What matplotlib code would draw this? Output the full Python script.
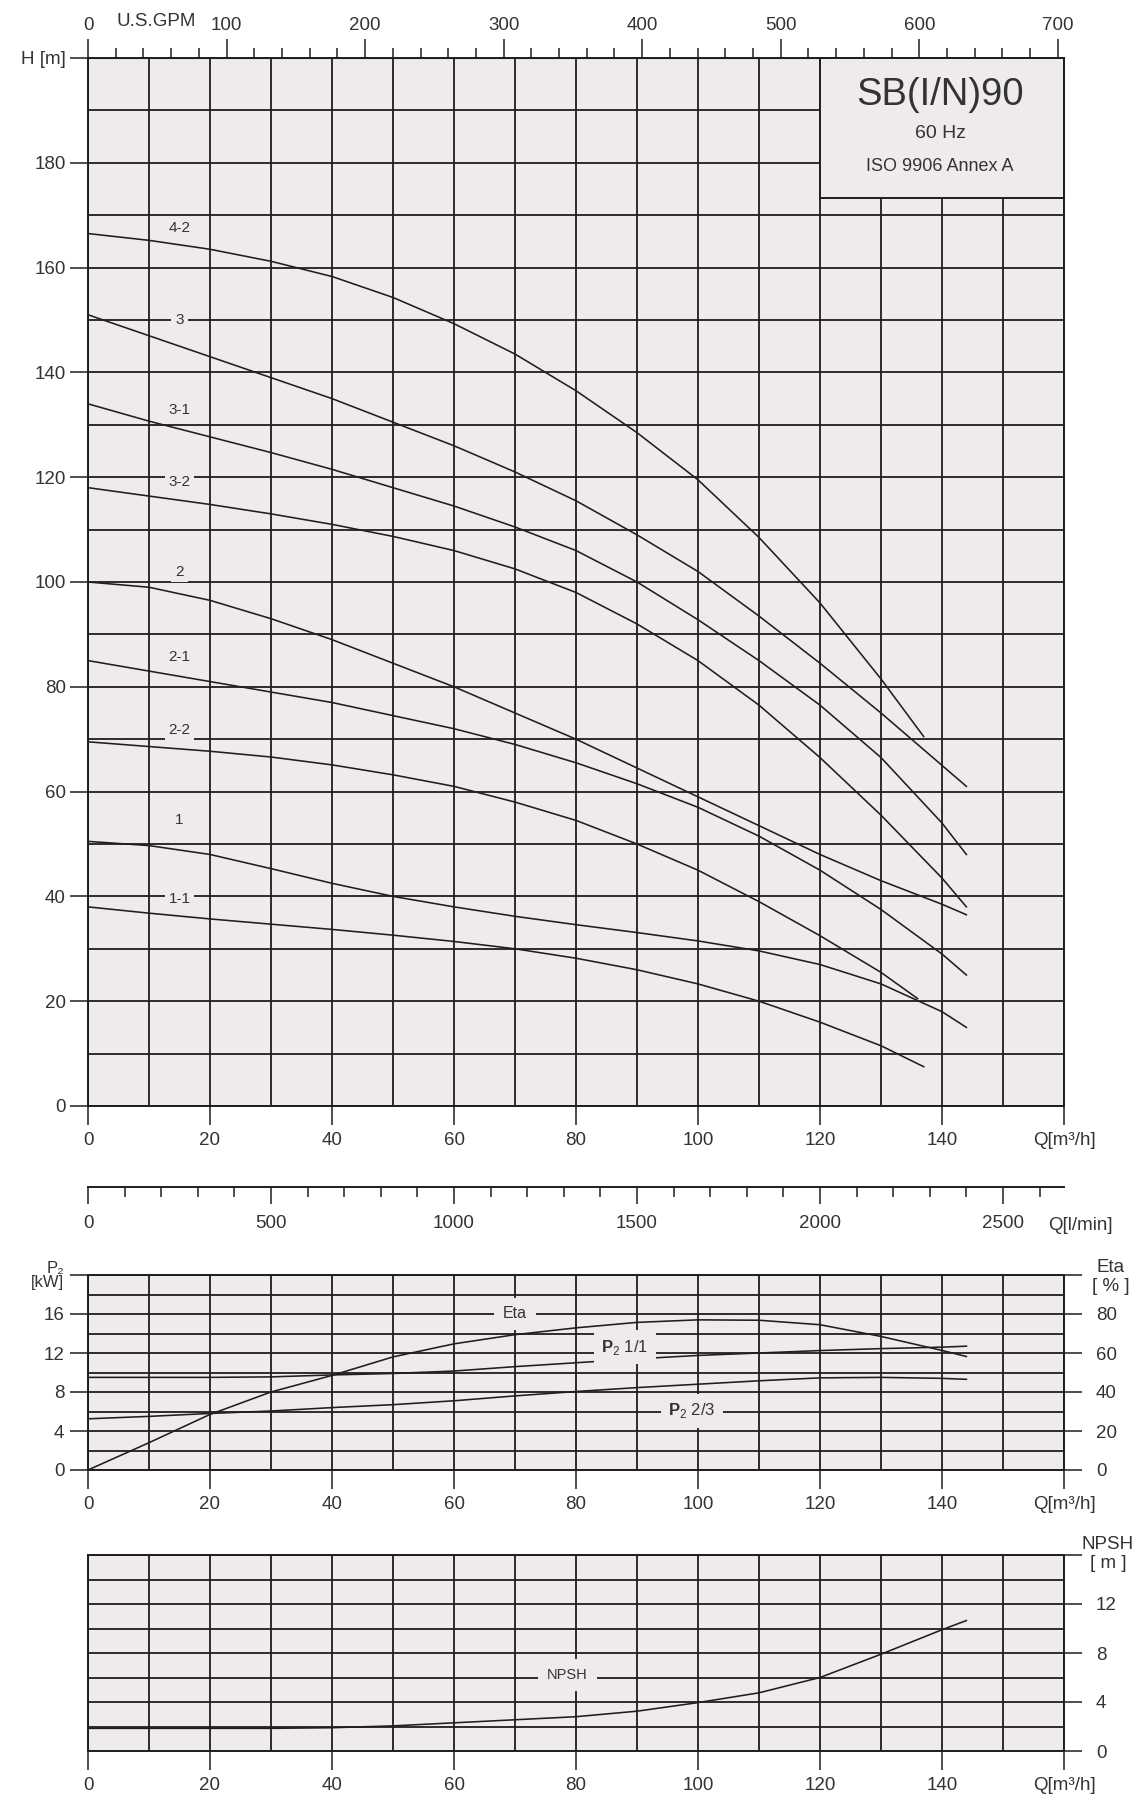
import numpy as np
import matplotlib
matplotlib.use("Agg")
import matplotlib.pyplot as plt
from matplotlib.patches import Rectangle

plt.rcParams['font.family'] = ['Liberation Sans', 'DejaVu Sans']
plt.rcParams['mathtext.fontset'] = 'custom'
plt.rcParams['mathtext.rm'] = 'Liberation Sans'
plt.rcParams['mathtext.bf'] = 'Liberation Sans:bold'

BG = '#efebec'
INK = '#1e1e1e'
TXT = '#333333'
FS = 13.5

# head curves: Q [m3/h] -> H [m]
q_long = [0, 10, 20, 30, 40, 50, 60, 70, 80, 90, 100, 110, 120, 130, 140, 144]
q_42 = [0, 10, 20, 30, 40, 50, 60, 70, 80, 90, 100, 110, 120, 130, 137]
q_22 = [0, 10, 20, 30, 40, 50, 60, 70, 80, 90, 100, 110, 120, 130, 136]
q_11 = [0, 10, 20, 30, 40, 50, 60, 70, 80, 90, 100, 110, 120, 130, 137]

h_42 = [166.5, 165.2, 163.5, 161.2, 158.3, 154.3, 149.3, 143.5, 136.5, 128.5, 119.5, 108.5, 96, 81.5, 70.5]
h_3 = [151, 147, 143, 139, 135, 130.5, 126, 121, 115.5, 109, 102, 93.5, 84.5, 75, 65, 61]
h_31 = [134, 130.7, 127.7, 124.7, 121.5, 118, 114.5, 110.5, 106, 100, 92.8, 85, 76.5, 66.5, 54, 48]
h_32 = [118, 116.4, 114.8, 113, 111, 108.7, 106, 102.5, 98, 92, 85, 76.5, 66.5, 55.5, 43.5, 38]
h_2 = [100, 99, 96.5, 93, 89, 84.5, 80, 75, 70, 64.5, 59, 53.5, 48, 43, 38.5, 36.5]
h_21 = [85, 83, 81, 79, 77, 74.5, 72, 69, 65.5, 61.5, 57, 51.5, 45, 37.5, 29, 25]
h_22 = [69.5, 68.6, 67.7, 66.6, 65.1, 63.2, 61, 58, 54.5, 50, 45, 39, 32.5, 25.5, 20.5]
h_1 = [50.5, 49.7, 48, 45.3, 42.5, 40, 38, 36.2, 34.6, 33.1, 31.5, 29.6, 27, 23.3, 18, 15]
h_11 = [38, 36.8, 35.7, 34.7, 33.7, 32.6, 31.4, 30, 28.2, 26, 23.3, 20, 16, 11.5, 7.5]

curve_names = ['4-2', '3', '3-1', '3-2', '2', '2-1', '2-2', '1', '1-1']
curve_q = [q_42, q_long, q_long, q_long, q_long, q_long, q_22, q_long, q_11]
curve_h = [h_42, h_3, h_31, h_32, h_2, h_21, h_22, h_1, h_11]
name_h = [167.5, 150, 132.8, 119, 102, 85.7, 71.7, 54.6, 39.5]

# power / efficiency / NPSH
q_low = [0, 10, 20, 30, 40, 50, 60, 70, 80, 90, 100, 110, 120, 130, 140, 144]
p2_full = [9.5, 9.5, 9.5, 9.55, 9.75, 9.9, 10.15, 10.6, 11.0, 11.4, 11.75, 12.0, 12.25, 12.45, 12.6, 12.7]
p2_twothirds = [5.25, 5.5, 5.8, 6.05, 6.4, 6.7, 7.1, 7.6, 8.05, 8.45, 8.8, 9.15, 9.45, 9.5, 9.4, 9.3]
eta = [0, 14, 28.5, 40, 48.5, 58, 64.7, 69.4, 72.9, 75.7, 77, 76.8, 74.5, 68.5, 61.3, 58.2]
npsh = [1.85, 1.85, 1.85, 1.85, 1.9, 2.05, 2.3, 2.55, 2.8, 3.25, 3.95, 4.75, 6.0, 7.9, 9.9, 10.65]

q_ticks = [0, 20, 40, 60, 80, 100, 120, 140, 160]
q_ticklabels = ['0', '20', '40', '60', '80', '100', '120', '140', 'Q[m³/h]']
gpm_ticks = [0, 100, 200, 300, 400, 500, 600, 700]
lpm_ticks = [0, 500, 1000, 1500, 2000, 2500]

W, H = 1141, 1800
fig = plt.figure(figsize=(W / 100, H / 100), dpi=100)
fig.patch.set_facecolor('white')

left = 88 / W
width = 976 / W


def frame(ax, ymax, ystep):
    ax.set_facecolor(BG)
    ax.set_xlim(0, 160)
    ax.set_ylim(0, ymax)
    ax.set_xticks(np.arange(0, 161, 10), minor=True)
    ax.set_yticks(np.arange(0, ymax + 0.1, ystep), minor=True)
    ax.grid(which='both', color=INK, lw=1.3)
    for s in ax.spines.values():
        s.set_color(INK)
        s.set_linewidth(1.4)
    ax.tick_params(which='minor', length=0)
    ax.tick_params(which='major', color=INK, width=1.1, labelcolor=TXT, labelsize=FS)
    ax.set_xticks(q_ticks)
    ax.set_xticklabels(q_ticklabels)
    ax.tick_params(axis='x', which='major', length=13.5, pad=5)


# ---- head chart ----
ax = fig.add_axes([left, 1 - 1106 / H, width, 1048 / H])
frame(ax, 200, 10)
ax.set_yticks(np.arange(0, 201, 20))
ax.set_yticklabels([str(v) for v in range(0, 181, 20)] + ['H [m]'])
ax.tick_params(axis='y', which='major', length=13, pad=3)

for name, q, h, hy in zip(curve_names, curve_q, curve_h, name_h):
    ax.plot(q, h, color=INK, lw=1.15, zorder=3)
    ax.text(15, hy, name, ha='center', va='center', fontsize=11, color=TXT, zorder=4,
            bbox=dict(boxstyle='square,pad=0.25', fc=BG, ec='none'))

ax.add_patch(Rectangle((120, 173.3), 40, 26.7, fc=BG, ec=INK, lw=1.4, zorder=2.5, clip_on=False))
ax.text(139.7, 193, 'SB(I/N)90', ha='center', va='center', fontsize=27.5, color=TXT, zorder=4)
ax.text(139.7, 185.6, '60 Hz', ha='center', va='center', fontsize=14, color=TXT, zorder=4)
ax.text(139.7, 179.2, 'ISO 9906 Annex A', ha='center', va='center', fontsize=13, color=TXT, zorder=4)

gpm = ax.secondary_xaxis('top', functions=(lambda q: q * 4.4029, lambda g: g / 4.4029))
gpm.set_xticks(gpm_ticks)
gpm.set_xticks(np.arange(0, 701, 20), minor=True)
gpm.tick_params(which='major', length=13.5, width=1.1, color=INK, labelcolor=TXT, labelsize=FS, pad=4)
gpm.tick_params(which='minor', length=7, width=1.1, color=INK)
gpm.spines['top'].set_color(INK)
fig.text(156 / W, 1 - 21 / H, 'U.S.GPM', ha='center', va='center', fontsize=FS, color=TXT)

# ---- l/min scale (1 m3/h = 1000/60 l/min) ----
axl = fig.add_axes([left, 1 - 1187 / H, width, 0.0001])
axl.set_xlim(0, 160)
axl.patch.set_visible(False)
for s in ['left', 'right', 'top']:
    axl.spines[s].set_visible(False)
axl.spines['bottom'].set_color(INK)
axl.spines['bottom'].set_linewidth(1.4)
axl.yaxis.set_visible(False)
axl.set_xticks([v * 0.06 for v in lpm_ticks])
axl.set_xticklabels([str(v) for v in lpm_ticks])
axl.set_xticks([v * 0.06 for v in range(0, 2601, 100)], minor=True)
axl.tick_params(which='major', length=12, width=1.1, color=INK, labelcolor=TXT, labelsize=FS, pad=8)
axl.tick_params(which='minor', length=7, width=1.1, color=INK)
fig.text(1080 / W, 1 - 1225 / H, 'Q[l/min]', ha='center', va='center', fontsize=FS, color=TXT)

# ---- power / efficiency ----
axp = fig.add_axes([left, 1 - 1470 / H, width, 195 / H])
frame(axp, 20, 2)
axp.set_yticks([0, 4, 8, 12, 16, 20])
axp.set_yticklabels(['0', '4', '8', '12', '16', 'P₂\n[kW]'])
axp.tick_params(axis='y', which='major', length=13, pad=4)
axp.get_yticklabels()[-1].set_fontsize(12)
axp.get_yticklabels()[-1].set_linespacing(0.85)
axp.plot(q_low, p2_full, color=INK, lw=1.15, zorder=3)
axp.plot(q_low, p2_twothirds, color=INK, lw=1.15, zorder=3)
axp.text(70, 16, 'Eta', ha='center', va='center', fontsize=11.5, color=TXT, zorder=4,
         bbox=dict(boxstyle='square,pad=0.55', fc=BG, ec='none'))
axp.text(88, 12.6, r'$\mathbf{P}_2$ 1/1', ha='center', va='center', fontsize=12, color=TXT, zorder=4,
         bbox=dict(boxstyle='square,pad=0.45', fc=BG, ec='none'))
axp.text(99, 6.1, r'$\mathbf{P}_2$ 2/3', ha='center', va='center', fontsize=12, color=TXT, zorder=4,
         bbox=dict(boxstyle='square,pad=0.45', fc=BG, ec='none'))

axe = axp.twinx()
axe.set_ylim(0, 100)
axe.plot(q_low, eta, color=INK, lw=1.15)
axe.set_yticks([0, 20, 40, 60, 80, 100])
axe.set_yticklabels(['0', '20', '40', '60', '80', ''])
axe.tick_params(axis='y', length=13, width=1.1, color=INK, labelcolor=TXT, labelsize=FS, pad=10)
for s in axe.spines.values():
    s.set_visible(False)
fig.text(1111 / W, 1 - 1277 / H, 'Eta\n[ % ]', ha='center', va='center', fontsize=FS,
         color=TXT, multialignment='center', linespacing=1.1)

# ---- NPSH ----
axn = fig.add_axes([left, 1 - 1751 / H, width, 196 / H])
frame(axn, 16, 2)
axn.yaxis.tick_right()
axn.set_yticks([0, 4, 8, 12, 16])
axn.set_yticklabels(['0', '4', '8', '12', ''])
axn.tick_params(axis='y', which='major', length=13, pad=10)
axn.plot(q_low, npsh, color=INK, lw=1.15, zorder=3)
axn.text(78.6, 6.2, 'NPSH', ha='center', va='center', fontsize=10.5, color=TXT, zorder=4,
         bbox=dict(boxstyle='square,pad=0.6', fc=BG, ec='none'))
fig.text(1108 / W, 1 - 1554 / H, 'NPSH\n[ m ]', ha='center', va='center', fontsize=FS,
         color=TXT, multialignment='center', linespacing=1.1)

fig.savefig('out.png', dpi=100, facecolor='white')
